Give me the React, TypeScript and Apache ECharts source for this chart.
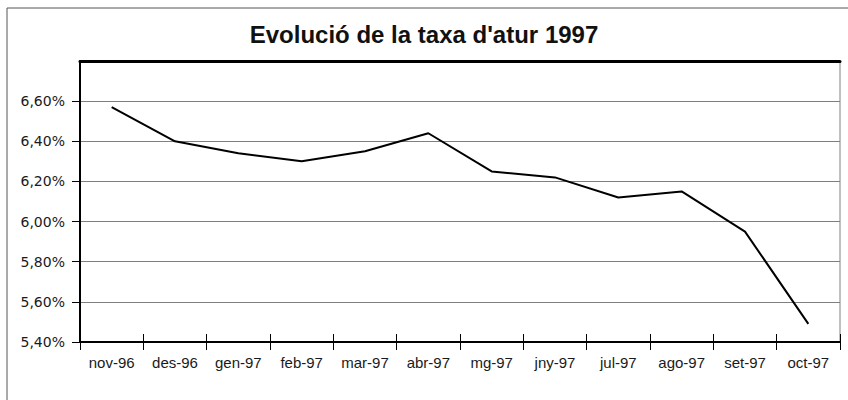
import React, { useEffect, useRef } from "react";
import * as echarts from "echarts";

const title = "Evolució de la taxa d'atur 1997";
const months = ["nov-96", "des-96", "gen-97", "feb-97", "mar-97", "abr-97", "mg-97", "jny-97", "jul-97", "ago-97", "set-97", "oct-97"];
const rates = [6.57, 6.40, 6.34, 6.30, 6.35, 6.44, 6.25, 6.22, 6.12, 6.15, 5.95, 5.49];
const yMin = 5.4;
const yMax = 6.8;
const yStep = 0.2;

export default function App() {
  const ref = useRef<HTMLDivElement>(null);
  useEffect(() => {
    if (!ref.current) return;
    const chart = echarts.init(ref.current, null, { renderer: "svg" });
    const fmt = (v: number) => v.toFixed(2).replace(".", ",") + "%";
    chart.setOption({
      animation: false,
      backgroundColor: "#ffffff",
      title: {
        text: title,
        left: "center",
        top: 17,
        textStyle: { fontFamily: "Liberation Sans", fontSize: 24, fontWeight: "bold", color: "#111" },
      },
      graphic: [
        {
          type: "rect",
          shape: { x: 7, y: 8, width: 900, height: 500 },
          style: { fill: "none", stroke: "#555", lineWidth: 1 },
          silent: true,
        },
      ],
      grid: {
        left: 80,
        right: 8,
        top: 61,
        bottom: 58,
        show: true,
        borderColor: "#808080",
        borderWidth: 1,
      },
      xAxis: [
        {
          type: "category",
          data: months,
          position: "bottom",
          boundaryGap: true,
          axisLine: { lineStyle: { color: "#000", width: 2 } },
          axisTick: { show: true, length: 8, lineStyle: { color: "#000", width: 1 } },
          axisLabel: { color: "#1a1a1a", fontFamily: "Liberation Sans", fontSize: 15, margin: 13, interval: 0 },
          splitLine: { show: false },
        },
        {
          type: "category",
          data: months,
          position: "bottom",
          boundaryGap: true,
          axisLine: { show: false },
          axisTick: { show: true, inside: true, length: 8, lineStyle: { color: "#000", width: 1 } },
          axisLabel: { show: false },
          splitLine: { show: false },
        },
        {
          type: "category",
          data: months,
          position: "top",
          boundaryGap: true,
          axisLine: { show: true, lineStyle: { color: "#000", width: 3 } },
          axisTick: { show: false },
          axisLabel: { show: false },
          splitLine: { show: false },
        },
      ],
      yAxis: {
        type: "value",
        min: yMin,
        max: yMax,
        interval: yStep,
        axisLine: { show: true, lineStyle: { color: "#000", width: 2 } },
        axisTick: { show: true, length: 8, lineStyle: { color: "#000", width: 1 } },
        axisLabel: {
          color: "#1a1a1a",
          fontFamily: "DejaVu Sans",
          fontSize: 14,
          margin: 15,
          showMaxLabel: false,
          formatter: (v: number) => (v > yMax - 0.01 ? "" : fmt(v)),
        },
        splitLine: { show: true, lineStyle: { color: "#808080", width: 1 } },
      },
      series: [
        {
          type: "line",
          data: rates,
          xAxisIndex: 0,
          showSymbol: false,
          symbol: "none",
          lineStyle: { color: "#000", width: 2 },
          z: 5,
        },
      ],
    });
    return () => chart.dispose();
  }, []);
  return <div ref={ref} style={{ position: "fixed", left: 0, top: 0, width: 848, height: 400 }} />;
}
